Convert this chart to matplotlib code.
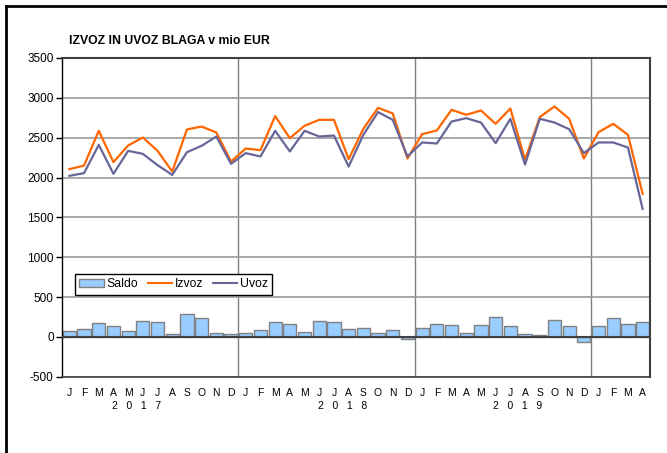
import matplotlib
matplotlib.use("Agg")
import matplotlib.pyplot as plt
import matplotlib.transforms as mtransforms
from matplotlib.lines import Line2D
from matplotlib.patches import Patch
import numpy as np

plt.rcParams["font.family"] = ["Liberation Sans", "DejaVu Sans"]
plt.rcParams["axes.unicode_minus"] = False

months = ["J", "F", "M", "A", "M", "J", "J", "A", "S", "O", "N", "D"] * 3 + ["J", "F", "M", "A"]
years = ["2017", "2018", "2019"]
year_pos = [4.6, 18.6, 30.5]  # where the excel year labels sit (category units)

izvoz = [2105, 2150, 2586, 2193, 2402, 2502, 2335, 2075, 2603, 2640, 2565, 2201,
         2364, 2343, 2770, 2494, 2649, 2724, 2724, 2230, 2611, 2875, 2804, 2238,
         2545, 2590, 2850, 2787, 2841, 2674, 2866, 2222, 2758, 2892, 2737, 2238,
         2570, 2674, 2536, 1795]
uvoz = [2021, 2055, 2410, 2046, 2335, 2297, 2155, 2033, 2318, 2398, 2515, 2172,
        2306, 2264, 2586, 2327, 2586, 2515, 2527, 2138, 2536, 2821, 2724, 2264,
        2440, 2427, 2703, 2745, 2690, 2431, 2737, 2163, 2737, 2690, 2607, 2306,
        2440, 2440, 2376, 1606]
saldo = [79, 96, 176, 142, 71, 201, 184, 38, 285, 235, 46, 38,
         54, 88, 184, 167, 63, 201, 184, 96, 117, 54, 88, -29,
         105, 159, 151, 46, 151, 247, 142, 38, 21, 209, 134, -67,
         134, 235, 159, 184]

x = np.arange(len(months))

fig = plt.figure(figsize=(6.67, 4.53), dpi=100)
ax = fig.add_axes([62 / 667, 1 - 376.7 / 453, 588 / 667, 318.7 / 453])

ax.bar(x, saldo, width=0.9, color="#99CCFF", edgecolor="#808080", linewidth=1.0, zorder=2)
ax.plot(x, izvoz, color="#FF6600", linewidth=1.6, zorder=3)
ax.plot(x, uvoz, color="#666699", linewidth=1.6, zorder=3)

ax.set_xlim(-0.5, len(months) - 0.5)
ax.set_ylim(-500, 3500)
ax.set_yticks(np.arange(-500, 3501, 500))
ax.tick_params(axis="y", labelsize=8.5, length=4, width=1, direction="out", pad=2)
ax.set_xticks([])
ax.grid(axis="y", color="#999999", linewidth=1.2, zorder=0)
for b in [11.5, 23.5, 35.5]:
    ax.axvline(b, color="#808080", linewidth=1.0, zorder=1)
ax.axhline(0, color="#404040", linewidth=1.5, zorder=4)

ax.spines["left"].set_color("black")
ax.spines["left"].set_linewidth(1.0)
for s in ["top", "right"]:
    ax.spines[s].set_color("#404040")
    ax.spines[s].set_linewidth(1.5)
ax.spines["bottom"].set_color("#404040")
ax.spines["bottom"].set_linewidth(1.2)

# month and year labels under the axis
base = ax.get_xaxis_transform()
month_tr = base + mtransforms.ScaledTranslation(0, -16 / 100, fig.dpi_scale_trans)
year_tr = base + mtransforms.ScaledTranslation(0, -29 / 100, fig.dpi_scale_trans)
for i, m in enumerate(months):
    ax.text(i, 0, m, transform=month_tr, ha="center", va="center", fontsize=7.5)
for pos, yr in zip(year_pos, years):
    ax.text(pos, 0, "   ".join(yr), transform=year_tr, ha="center", va="center", fontsize=7.5)

handles = [Patch(facecolor="#99CCFF", edgecolor="#808080"),
           Line2D([], [], color="#FF6600", linewidth=1.5),
           Line2D([], [], color="#666699", linewidth=1.5)]
leg = ax.legend(handles, ["Saldo", "Izvoz", "Uvoz"], ncol=3, loc="upper left",
                bbox_to_anchor=(13 / 588, (376.7 - 274) / 318.7),
                fontsize=8.8, frameon=True, fancybox=False, edgecolor="black",
                handlelength=2.0, handletextpad=0.2, columnspacing=0.8,
                borderpad=0.35, borderaxespad=0)
leg.get_frame().set_linewidth(1.0)
leg.get_frame().set_alpha(1)
leg.set_zorder(5)

fig.text(69 / 667, 1 - 41.5 / 453, "IZVOZ IN UVOZ BLAGA v mio EUR", fontsize=8.8,
         fontweight="bold", va="center", ha="left")

fig.add_artist(Line2D([6 / 667, 1], [1 - 6 / 453, 1 - 6 / 453], color="black", linewidth=2,
                      transform=fig.transFigure))
fig.add_artist(Line2D([6 / 667, 6 / 667], [0, 1 - 6 / 453], color="black", linewidth=2,
                      transform=fig.transFigure))

fig.savefig("out.png", dpi=100)
